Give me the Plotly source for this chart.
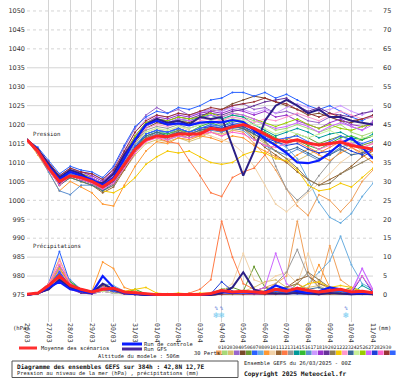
import plotly.graph_objects as go
import pandas as pd

# ---------------- DATA ----------------
run_start = "2025-03-26 00:00"
n_steps = 33  # 12-hourly, 0..384h
times = pd.date_range(run_start, periods=n_steps, freq="12h")

pressure_ticks = list(range(975, 1051, 5))
precip_ticks = list(range(0, 76, 5))

# Sea-level pressure (hPa)
mean_pres = [1016, 1013, 1008.5, 1005, 1006.5, 1006, 1005, 1003.5, 1005.5, 1009.5, 1013.5, 1016, 1017, 1016.8, 1017.5, 1017.5, 1017.5, 1019, 1018.6, 1019.4, 1020, 1019, 1017.6, 1016, 1015.4, 1016, 1015.1, 1014.6, 1015, 1015.4, 1014.5, 1014, 1013.5]
ctrl_pres = [1016, 1013, 1009, 1005.5, 1007.5, 1006.5, 1005.5, 1004, 1006, 1011, 1016, 1020, 1021, 1020, 1020.3, 1019.8, 1020.5, 1020.7, 1020.6, 1021.2, 1020.7, 1018.5, 1016.3, 1014.5, 1012.5, 1010, 1009.8, 1010.5, 1012.5, 1015, 1016.5, 1014, 1011]
gfs_pres = [1016, 1013.5, 1009.5, 1006, 1008, 1007, 1005, 1004.5, 1007, 1012, 1016, 1020, 1021.5, 1020.5, 1021, 1020, 1022, 1021.5, 1022, 1014, 1006.5, 1013, 1021, 1025, 1026.5, 1025, 1023, 1024, 1022, 1022, 1021, 1020.5, 1020]

pres_01 = [1016, 1013, 1009, 1005.5, 1007, 1006.5, 1005, 1004, 1006, 1010, 1014, 1016.5, 1017, 1016, 1017.5, 1016.5, 1017, 1018, 1017, 1018.5, 1018, 1015, 1012, 1008, 1003, 998.5, 996, 1001.5, 1000, 997, 1000, 1005, 1008]
pres_02 = [1016, 1013.5, 1009.5, 1006, 1008, 1007, 1006, 1004.5, 1007, 1012, 1016.5, 1019.5, 1021, 1020, 1021.5, 1020.5, 1021.5, 1022.5, 1021, 1022.5, 1022, 1021, 1020, 1018.5, 1019, 1020, 1019, 1018, 1019, 1020, 1018, 1017, 1018]
pres_03 = [1016, 1012.5, 1008.5, 1004, 1006.5, 1005.5, 1004.5, 1003, 1004.5, 1008, 1012, 1015, 1016, 1015.5, 1016.5, 1015.5, 1016.5, 1018, 1017.5, 1018.5, 1019, 1017, 1015, 1013, 1011, 1010.5, 1012, 1013.5, 1012, 1014, 1015, 1013, 1012]
pres_04 = [1016, 1013.5, 1010, 1006.5, 1008.5, 1007.5, 1007, 1005.5, 1008.5, 1014, 1019, 1022.5, 1024.5, 1023, 1024, 1022.5, 1023.5, 1024, 1023.5, 1025, 1025.5, 1024, 1024.5, 1023, 1023.5, 1022.5, 1021, 1020.5, 1022, 1021, 1019.5, 1018.5, 1021]
pres_05 = [1016, 1013, 1009.5, 1005.5, 1007.5, 1006.5, 1005.5, 1004, 1006.5, 1011, 1015.5, 1019, 1020.5, 1020, 1021, 1020.5, 1022, 1023.5, 1024, 1025.5, 1026.5, 1027.5, 1027, 1026, 1025, 1024, 1022.5, 1023, 1022, 1021, 1020.5, 1021.5, 1022]
pres_06 = [1016, 1012.5, 1008.5, 1004.5, 1006.5, 1006, 1005, 1003.5, 1005, 1009, 1013, 1016, 1017.5, 1017, 1018, 1017.5, 1018.5, 1019, 1018.5, 1019.5, 1019, 1017.5, 1016, 1015, 1016, 1017.5, 1016.5, 1015, 1016, 1017, 1016, 1014.5, 1015.5]
pres_07 = [1016, 1014, 1010.5, 1007, 1009, 1008, 1007.5, 1006, 1009, 1014.5, 1019.5, 1022, 1023.5, 1023, 1024.5, 1024, 1025, 1026.5, 1027, 1028.5, 1028.5, 1027.5, 1028.5, 1027, 1028, 1026.5, 1025, 1024, 1025, 1023.5, 1022, 1021, 1022.5]
pres_08 = [1016, 1013, 1009, 1005, 1007, 1006, 1005, 1003.5, 1005.5, 1010, 1014, 1017.5, 1018.5, 1017.5, 1019, 1018, 1019, 1020, 1019, 1020, 1019.5, 1018, 1017, 1015.5, 1014, 1011, 1005.5, 999.5, 995.5, 994, 996.5, 1001, 1004.5]
pres_09 = [1016, 1012, 1007.5, 1002.5, 1005, 1003.5, 1002, 999, 998.5, 1004, 1009, 1013, 1015.5, 1015, 1016.5, 1016, 1017, 1016.5, 1015.5, 1017, 1016.5, 1014.5, 1013, 1011.5, 1010, 1012, 1013.5, 1012, 1010.5, 1012.5, 1014, 1012, 1010]
pres_10 = [1016, 1013, 1009, 1005, 1007, 1006, 1005, 1003.5, 1006, 1010.5, 1015, 1018, 1019, 1018, 1019.5, 1018.5, 1018, 1017, 1016, 1015, 1012.5, 1009, 1004, 999, 997, 999.5, 1002, 1004.5, 1007, 1010, 1012, 1013.5, 1015]
pres_11 = [1016, 1012.5, 1008, 1004, 1006, 1005, 1004, 1002, 1003.5, 1008, 1012.5, 1016, 1017, 1016.5, 1018, 1017, 1018, 1019, 1018, 1019.5, 1019, 1016.5, 1014, 1012, 1010, 1007.5, 1005.5, 1004, 1005.5, 1007, 1009, 1011.5, 1013]
pres_12 = [1016, 1013, 1008.5, 1004.5, 1006.5, 1005.5, 1004.5, 1003, 1005, 1009, 1013, 1016, 1016.5, 1015.5, 1015, 1010.5, 1006.5, 1002, 1001, 1006, 1007.5, 1008.5, 1012, 1015, 1016.5, 1015.5, 1014, 1012.5, 1014, 1015.5, 1014, 1012.5, 1013]
pres_13 = [1016, 1013, 1009, 1005, 1007.5, 1006.5, 1005.5, 1004, 1006, 1010.5, 1015, 1018.5, 1019.5, 1019, 1020, 1019, 1020, 1021, 1020, 1021.5, 1021, 1019, 1016.5, 1009, 1003, 1000, 1002.5, 1006.5, 1010, 1013, 1015, 1016, 1017]
pres_14 = [1016, 1013, 1009, 1005.5, 1007.5, 1006.5, 1005.5, 1004, 1006, 1011, 1016, 1019.5, 1021, 1020.5, 1021.5, 1021, 1022, 1022.5, 1021.5, 1022.5, 1022, 1020, 1018.5, 1017, 1018, 1019, 1018, 1016.5, 1017.5, 1018, 1016.5, 1016, 1017.5]
pres_15 = [1016, 1012.5, 1008.5, 1005, 1007, 1006, 1005, 1003.5, 1005.5, 1009.5, 1014, 1017, 1018, 1017.5, 1018.5, 1018, 1019.5, 1020.5, 1019.5, 1021, 1020.5, 1019, 1018, 1016.5, 1015, 1016, 1014.5, 1013.5, 1015, 1016.5, 1017, 1016, 1017]
pres_16 = [1016, 1012.5, 1007.5, 1002.5, 1001.5, 1004, 1004, 1002.5, 1004, 1009, 1013.5, 1016.5, 1017.5, 1016, 1017, 1016.5, 1017.5, 1018.5, 1018, 1019, 1018.5, 1016, 1014.5, 1013, 1012, 1013.5, 1012, 1010.5, 1012, 1014, 1015, 1013.5, 1014]
pres_17 = [1016, 1013.5, 1010, 1006, 1008, 1007, 1006.5, 1005, 1007.5, 1013, 1018, 1021.5, 1022.5, 1022, 1023, 1022.5, 1023, 1024, 1023.5, 1024.5, 1024, 1023, 1024, 1023, 1024.5, 1025.5, 1024.5, 1023.5, 1024, 1025, 1023.5, 1022.5, 1024]
pres_18 = [1016, 1013.5, 1009.5, 1006, 1008, 1007.5, 1006.5, 1005, 1007.5, 1012.5, 1017, 1020.5, 1022, 1021.5, 1022.5, 1022, 1023, 1023.5, 1023, 1024, 1023.5, 1022.5, 1023.5, 1022, 1022.5, 1021, 1020, 1019, 1020.5, 1021.5, 1020, 1019.5, 1020.5]
pres_19 = [1016, 1013, 1009.5, 1005.5, 1007.5, 1007, 1006, 1004.5, 1007, 1012, 1016.5, 1020, 1021.5, 1021, 1022, 1021.5, 1022.5, 1023, 1022.5, 1023.5, 1024, 1025, 1026, 1026.5, 1027, 1025, 1023.5, 1024.5, 1023, 1022.5, 1022, 1023, 1023.5]
pres_20 = [1016, 1012.5, 1008.5, 1004.5, 1006.5, 1005.5, 1004.5, 1002.5, 1004, 1008.5, 1013, 1016.5, 1018, 1017, 1018.5, 1017.5, 1018.5, 1019.5, 1019, 1020, 1019.5, 1017.5, 1015.5, 1013, 1011, 1008.5, 1005.5, 1004, 1004.5, 1007, 1008.5, 1010, 1011.5]
pres_21 = [1016, 1012.5, 1008.5, 1004.5, 1006, 1005, 1004, 1002.5, 1002, 1003.5, 1006, 1009.5, 1011.5, 1013, 1012.5, 1013, 1011.5, 1010, 1009.5, 1010, 1012, 1013, 1012.5, 1011, 1010.5, 1008, 1004, 1002.5, 1003, 1004.5, 1003.5, 1006, 1008.5]
pres_22 = [1016, 1013, 1009, 1005.5, 1007.5, 1006.5, 1005.5, 1004, 1006.5, 1011.5, 1016, 1019, 1020, 1019.5, 1020.5, 1020, 1021, 1021.5, 1021, 1022, 1021.5, 1020.5, 1021.5, 1021, 1022, 1023, 1022, 1021, 1022.5, 1023.5, 1022.5, 1021.5, 1022]
pres_23 = [1016, 1012.5, 1008.5, 1004, 1006, 1005, 1004, 1002.5, 1004.5, 1009, 1013.5, 1017, 1018, 1017, 1018, 1017.5, 1018.5, 1019, 1018.5, 1019.5, 1019, 1017.5, 1016, 1014.5, 1013, 1014, 1012.5, 1011, 1012, 1013.5, 1012, 1012.5, 1014]
pres_24 = [1016, 1013, 1009, 1005, 1007, 1006, 1005, 1003.5, 1005.5, 1010, 1014.5, 1018, 1019, 1018.5, 1019.5, 1019, 1020, 1021, 1020.5, 1021.5, 1021, 1020, 1019, 1017.5, 1018.5, 1017.5, 1016.5, 1017.5, 1018.5, 1017, 1015.5, 1016.5, 1017]
pres_25 = [1016, 1013.5, 1009.5, 1006, 1008, 1007, 1006, 1004.5, 1007, 1012, 1017, 1020.5, 1021.5, 1021, 1022, 1021.5, 1022, 1023, 1022, 1023, 1022.5, 1021.5, 1020.5, 1019.5, 1020.5, 1021.5, 1020, 1019, 1020, 1019, 1018.5, 1019.5, 1020]
pres_26 = [1016, 1013, 1009.5, 1005.5, 1007.5, 1006.5, 1006, 1004.5, 1007, 1011.5, 1016, 1019.5, 1021, 1020.5, 1021.5, 1021, 1021.5, 1022.5, 1022, 1023, 1022.5, 1021.5, 1020, 1019, 1019.5, 1020.5, 1019.5, 1018, 1019.5, 1020.5, 1019.5, 1018.5, 1020]
pres_27 = [1016, 1012.5, 1008.5, 1004.5, 1006.5, 1005.5, 1004.5, 1003, 1005, 1009.5, 1014, 1017.5, 1018.5, 1018, 1019, 1018, 1019, 1019.5, 1019, 1020, 1019.5, 1018, 1016.5, 1015.5, 1014.5, 1015, 1013.5, 1012.5, 1013, 1014.5, 1013, 1012, 1013.5]
pres_28 = [1016, 1012.5, 1008, 1004, 1006.5, 1005.5, 1004.5, 1003, 1004.5, 1008.5, 1012.5, 1015.5, 1016.5, 1016, 1017, 1016.5, 1017.5, 1018, 1017, 1018, 1017.5, 1016, 1014.5, 1014, 1015, 1016, 1015, 1013.5, 1014.5, 1016, 1015, 1014, 1015]
pres_29 = [1016, 1013.5, 1010, 1006.5, 1008.5, 1007.5, 1007, 1005.5, 1008, 1013, 1018, 1021, 1022.5, 1022, 1023, 1022.5, 1023.5, 1024.5, 1024, 1025, 1025.5, 1026, 1027, 1026, 1025.5, 1024, 1023, 1022, 1023, 1022, 1021, 1021.5, 1022.5]
pres_30 = [1016, 1013, 1009, 1005, 1007, 1006, 1005, 1003.5, 1005.5, 1010, 1014.5, 1017.5, 1018.5, 1018, 1019, 1018, 1019, 1020, 1019.5, 1020.5, 1020, 1018.5, 1017, 1016, 1016.5, 1017, 1015.5, 1014.5, 1015.5, 1017, 1016, 1015, 1016]

# Precipitation (mm)
mean_rain = [0.2, 0.5, 2.5, 5, 2.5, 1.5, 0.8, 1.5, 1.8, 0.8, 0.6, 0.3, 0.1, 0.1, 0.1, 0.1, 0.1, 0.4, 1.2, 0.8, 1, 0.8, 0.6, 1.5, 1, 1.8, 1.2, 0.8, 1.2, 1.5, 0.8, 1, 0.6]
ctrl_rain = [0, 0.5, 2, 3.5, 1.5, 1, 0.5, 5, 2, 0.5, 0.3, 0, 0, 0, 0, 0, 0, 0.3, 1, 0.5, 0.8, 0.5, 0.8, 2.5, 1.5, 1, 0.5, 1, 2, 1.5, 0.5, 0.5, 0.5]
gfs_rain = [0, 0.5, 1.5, 4, 2, 1, 0.5, 3, 1.5, 0.5, 0.2, 0, 0, 0, 0, 0, 0, 0, 0.5, 2, 6, 1.5, 0.5, 0.3, 0.3, 0.5, 0.3, 0.2, 0.5, 0.3, 0.2, 0.3, 0.2]

rain_01 = [0, 0.5, 3, 9.5, 3, 1, 0.5, 2, 1.5, 0.5, 0.3, 0, 0, 0, 0, 0, 0, 0.2, 0.5, 0.3, 0.5, 1, 2, 3, 5, 19.5, 6, 2, 13, 4, 2, 1, 0.5]
rain_02 = [0, 0.3, 2, 5, 2, 1, 0.5, 1.5, 1, 0.3, 0.2, 0, 0, 0, 0, 0, 0, 0, 0.3, 0.5, 0.3, 0.5, 0.3, 1, 0.5, 0.8, 0.5, 0.3, 0.8, 1, 0.5, 0.3, 0.2]
rain_03 = [0, 0.5, 2.5, 6, 2.5, 1, 0.5, 1, 2, 0.5, 0.5, 0, 0, 0, 0, 0, 0, 0.5, 1, 0.5, 1, 2, 3.5, 4, 2, 1.5, 2, 2.5, 1, 1.5, 1, 0.5, 0.5]
rain_04 = [0, 0.3, 1.5, 4, 2, 0.5, 0.3, 1, 0.5, 0.3, 0, 0, 0, 0, 0, 0, 0, 0, 0.2, 0.3, 0.2, 0.3, 0.2, 0.5, 0.3, 0.5, 0.2, 0.3, 0.5, 0.3, 0.2, 0.3, 0.2]
rain_05 = [0, 0.5, 2, 7, 3, 1.5, 0.5, 2.5, 1.5, 0.5, 0.3, 0, 0, 0, 0, 0, 0, 0.2, 0.3, 0.2, 0.3, 0.2, 0.3, 0.2, 0.3, 0.5, 0.3, 0.2, 0.3, 0.5, 0.3, 0.2, 0.2]
rain_06 = [0, 0.5, 2, 5.5, 3.5, 1.5, 1, 2, 1, 0.5, 0.5, 0, 0, 0, 0, 0, 0, 0.5, 1.5, 2, 1, 7.5, 2, 1, 0.5, 3, 1, 0.5, 1.5, 1, 2, 1, 0.5]
rain_07 = [0, 0.5, 3, 11.5, 3, 1, 0.5, 1.5, 1, 0.3, 0.2, 0, 0, 0, 0, 0, 0, 0, 0.2, 0.3, 0.2, 0.3, 0.2, 0.3, 0.5, 0.3, 0.2, 0.3, 0.5, 0.3, 0.2, 0.5, 0.3]
rain_08 = [0, 0.5, 2.5, 6.5, 2, 1, 0.5, 3, 2.5, 1, 0.5, 0, 0, 0, 0, 0, 0, 0.3, 0.5, 0.5, 0.3, 0.5, 0.5, 1, 0.5, 1, 3, 6, 9, 15.5, 8, 3, 1.5]
rain_09 = [0, 0.5, 3, 8, 2.5, 1.5, 1, 8.7, 7, 2, 1, 0.3, 0, 0, 0, 0, 0, 0.3, 0.5, 0.3, 0.5, 1, 0.5, 1.5, 2, 3, 1.5, 8, 2, 1, 1.5, 1, 0.5]
rain_10 = [0, 0.5, 2, 4.5, 2, 1, 0.5, 1.5, 1, 0.5, 0.3, 0, 0, 0, 0, 0, 0, 0.5, 1, 3, 11, 4, 3, 5, 6, 3, 11, 3, 1.5, 1, 0.5, 0.5, 0.3]
rain_11 = [0, 0.5, 2, 6, 3, 1, 0.5, 2, 1.5, 0.5, 0.3, 0, 0, 0, 0, 0, 0, 0.2, 0.5, 0.5, 0.5, 1, 2, 1.5, 2, 4, 5, 3, 2, 1.5, 1, 1, 0.5]
rain_12 = [0, 0.5, 2.5, 7, 2.5, 1, 0.5, 2, 1, 0.5, 0.3, 0, 0, 0, 0, 0.5, 1.5, 4, 19.5, 10, 3, 1.5, 1, 0.5, 0.3, 1, 0.5, 0.3, 0.5, 0.5, 0.3, 0.5, 0.3]
rain_13 = [0, 0.3, 2, 5, 2, 1, 0.5, 1.5, 1, 0.3, 0.2, 0, 0, 0, 0, 0, 0, 0.2, 0.3, 0.3, 0.5, 0.5, 1, 3, 6, 12, 5, 2, 1, 0.5, 0.5, 0.3, 0.3]
rain_14 = [0, 0.5, 2, 6, 2.5, 1, 0.5, 1.5, 1, 0.5, 0.3, 0, 0, 0, 0, 0, 0, 0, 0.3, 0.5, 0.3, 0.5, 0.3, 1, 0.5, 1.5, 0.5, 0.5, 1, 0.5, 0.3, 2.5, 1]
rain_15 = [0, 0.5, 2, 5, 3.5, 1.5, 1, 2, 1, 0.5, 1.5, 0.3, 0, 0, 0, 0, 0, 0.2, 0.5, 0.3, 0.5, 0.5, 0.3, 1, 0.5, 1.5, 0.5, 0.3, 1, 1.5, 0.5, 0.5, 0.3]
rain_16 = [0, 0.5, 2.5, 7.5, 4, 1.5, 1, 2, 1.5, 0.5, 0.3, 0, 0, 0, 0, 0, 0, 0.2, 0.5, 0.5, 0.3, 0.5, 0.5, 1, 0.5, 1, 1, 0.5, 1, 1.5, 0.5, 0.3, 0.3]
rain_17 = [0, 0.5, 2, 5, 2, 1, 0.5, 1, 0.5, 0.3, 0.2, 0, 0, 0, 0, 0, 0, 0, 0.2, 0.3, 0.2, 0.3, 0.2, 0.5, 0.3, 0.5, 0.3, 0.2, 0.5, 0.5, 0.3, 7, 1]
rain_18 = [0, 0.3, 1.5, 4, 1.5, 0.5, 0.3, 1, 0.5, 0.3, 0.2, 0, 0, 0, 0, 0, 0, 0, 0.2, 0.3, 0.2, 0.3, 0.2, 0.5, 0.3, 0.5, 0.3, 0.2, 0.5, 0.3, 0.2, 0.5, 0.3]
rain_19 = [0, 0.3, 1.5, 4.5, 2, 0.5, 0.3, 1.5, 1, 0.3, 0.2, 0, 0, 0, 0, 0, 0, 0, 0.2, 0.3, 0.5, 0.5, 0.3, 0.5, 0.3, 0.5, 0.3, 0.2, 0.3, 0.5, 0.3, 0.3, 0.2]
rain_20 = [0, 0.5, 2, 6, 2.5, 1, 0.5, 2, 1.5, 0.5, 0.3, 0, 0, 0, 0, 0, 0, 0.2, 0.5, 0.5, 0.5, 0.5, 1, 1.5, 2, 3, 6, 4, 2, 1, 1, 0.5, 0.5]
rain_21 = [0, 0.5, 2.5, 7, 2.5, 1.5, 0.5, 2, 2, 1, 1.5, 2, 0.5, 0.3, 0.5, 0.3, 0.5, 0.5, 1, 0.5, 0.5, 0.5, 0.5, 1, 1, 1.5, 3, 3.5, 2, 2.5, 2, 1, 0.5]
rain_22 = [0, 0.5, 3, 9, 3, 1, 0.5, 1.5, 1, 0.3, 0.2, 0, 0, 0, 0, 0, 0, 0, 0.2, 0.3, 0.2, 0.3, 0.3, 0.5, 0.3, 0.5, 0.3, 0.3, 0.5, 0.5, 0.3, 0.3, 0.2]
rain_23 = [0, 0.5, 2, 5.5, 2, 1, 0.5, 1.5, 1, 0.5, 0.3, 0, 0, 0, 0, 0, 0, 0.2, 0.5, 0.5, 0.5, 1, 0.5, 1, 1.5, 1, 1.5, 2, 1, 1, 0.5, 1, 0.5]
rain_24 = [0, 0.3, 2, 4, 2, 1, 0.5, 1, 0.5, 0.3, 0.2, 0, 0, 0, 0, 0, 0, 0, 0.2, 0.3, 0.2, 0.5, 0.3, 0.5, 0.3, 0.5, 0.3, 0.3, 0.5, 0.3, 0.3, 0.5, 0.3]
rain_25 = [0, 0.3, 2, 5, 2.5, 1, 0.5, 1.5, 1, 0.3, 0.2, 0, 0, 0, 0, 0, 0, 0, 0.2, 0.3, 0.3, 0.5, 0.3, 0.5, 0.3, 0.5, 0.3, 0.3, 0.5, 0.5, 0.3, 0.3, 0.2]
rain_26 = [0, 0.5, 2, 6.5, 2.5, 1, 0.5, 1.5, 1, 0.3, 0.2, 0, 0, 0, 0, 0, 0, 0, 0.3, 0.5, 0.5, 1, 2, 11, 3, 1, 0.5, 0.5, 1, 1.5, 1, 7, 1.5]
rain_27 = [0, 0.5, 2.5, 6, 2, 1, 0.5, 2, 1, 0.5, 0.3, 0, 0, 0, 0, 0, 0, 0.3, 3.5, 1, 0.5, 0.5, 0.5, 1, 0.5, 1, 0.5, 0.5, 1, 1, 0.5, 5, 0.5]
rain_28 = [0, 0.5, 2.5, 8, 3, 1, 0.5, 2, 1.5, 0.5, 0.3, 0, 0, 0, 0, 0, 0, 0.2, 0.5, 0.5, 0.5, 0.5, 0.5, 1.5, 1, 2, 1, 0.5, 1, 1.5, 1, 5, 1]
rain_29 = [0, 0.3, 2, 5, 2, 1, 0.5, 1.5, 1, 0.3, 0.2, 0, 0, 0, 0, 0, 0, 0, 0.2, 0.3, 0.2, 0.3, 0.2, 0.3, 0.3, 0.5, 0.3, 0.3, 0.3, 0.5, 0.3, 0.3, 0.2]
rain_30 = [0, 0.5, 2.5, 6, 2, 1, 0.5, 1.5, 1, 0.5, 0.3, 0, 0, 0, 0, 0, 0, 0.2, 0.5, 0.5, 0.5, 0.5, 0.5, 1, 0.5, 1.5, 0.5, 0.5, 1, 1, 0.5, 0.5, 0.3]

pert_colors = ["#f0a05a", "#a8d878", "#d8c070", "#9966cc", "#7a4a2a", "#6b9a33", "#2a62ff", "#6aaee0",
               "#ff9933", "#f2d2a8", "#996633", "#ff7a45", "#999999", "#009999", "#33bb33", "#5b8fd0",
               "#cc99ff", "#9933cc", "#663399", "#8c7b5a", "#f5c800", "#ff99cc", "#3a6a99", "#c8f098",
               "#99cc00", "#cc66ff", "#1f3fd8", "#ff66cc", "#993333", "#3366ff"]

snow_times = ["2025-04-03 18:00", "2025-04-04 00:00", "2025-04-09 18:00"]

pres_perts = [pres_01, pres_02, pres_03, pres_04, pres_05, pres_06, pres_07, pres_08, pres_09, pres_10,
              pres_11, pres_12, pres_13, pres_14, pres_15, pres_16, pres_17, pres_18, pres_19, pres_20,
              pres_21, pres_22, pres_23, pres_24, pres_25, pres_26, pres_27, pres_28, pres_29, pres_30]
rain_perts = [rain_01, rain_02, rain_03, rain_04, rain_05, rain_06, rain_07, rain_08, rain_09, rain_10,
              rain_11, rain_12, rain_13, rain_14, rain_15, rain_16, rain_17, rain_18, rain_19, rain_20,
              rain_21, rain_22, rain_23, rain_24, rain_25, rain_26, rain_27, rain_28, rain_29, rain_30]

for s in pres_perts + rain_perts + [mean_pres, ctrl_pres, gfs_pres, mean_rain, ctrl_rain, gfs_rain]:
    assert len(s) == n_steps, len(s)

# ---------------- LAYOUT GEOMETRY ----------------
W, H = 400, 378
ML, MR, MT, MB = 27, 27, 0, 56
PW, PH = W - ML - MR, H - MT - MB


def fx(px):
    return (px - ML) / PW


def fy(py):
    return (H - MB - py) / PH


MONO = "DejaVu Sans Mono"

fig = go.Figure()

for i in range(30):
    c = pert_colors[i]
    fig.add_trace(go.Scatter(x=times, y=pres_perts[i], mode="lines+markers",
                             line=dict(color=c, width=1), marker=dict(size=2, color=c),
                             hoverinfo="skip", showlegend=False))
for i in range(30):
    c = pert_colors[i]
    fig.add_trace(go.Scatter(x=times, y=rain_perts[i], yaxis="y2", mode="lines+markers",
                             line=dict(color=c, width=1), marker=dict(size=2, color=c),
                             hoverinfo="skip", showlegend=False))

main = [(gfs_pres, gfs_rain, "#2b1f86", 2.0), (ctrl_pres, ctrl_rain, "#0a1cff", 2.2),
        (mean_pres, mean_rain, "#ff2626", 3)]
for p, r, c, w in main:
    fig.add_trace(go.Scatter(x=times, y=p, mode="lines", line=dict(color=c, width=w),
                             hoverinfo="skip", showlegend=False))
    fig.add_trace(go.Scatter(x=times, y=r, yaxis="y2", mode="lines", line=dict(color=c, width=w),
                             hoverinfo="skip", showlegend=False))

# snow symbols
fig.add_trace(go.Scatter(x=snow_times, y=[969.4] * len(snow_times), mode="text", text=["❄"] * len(snow_times),
                         textfont=dict(size=8, color="#6cc8f0", family="DejaVu Sans"),
                         hoverinfo="skip", showlegend=False))
fig.add_trace(go.Scatter(x=snow_times, y=[971.4] * len(snow_times), mode="text", text=["%"] * len(snow_times),
                         textfont=dict(size=5, color="#3a5ad0", family=MONO),
                         hoverinfo="skip", showlegend=False))

shapes = []
dotted_levels = {1050, 1045, 1040, 1000, 995, 990}
for v in pressure_ticks:
    shapes.append(dict(type="line", xref="paper", yref="y", x0=0, x1=1, y0=v, y1=v, layer="below",
                       line=dict(color="#d4d4d4", width=1, dash="dot" if v in dotted_levels else "solid")))

# legend samples
shapes.append(dict(type="line", xref="paper", yref="paper", x0=fx(19), x1=fx(37), y0=fy(348), y1=fy(348),
                   line=dict(color="#ff3030", width=3)))
shapes.append(dict(type="line", xref="paper", yref="paper", x0=fx(122), x1=fx(142), y0=fy(344), y1=fy(344),
                   line=dict(color="#0a1cff", width=3)))
shapes.append(dict(type="line", xref="paper", yref="paper", x0=fx(122), x1=fx(142), y0=fy(349), y1=fy(349),
                   line=dict(color="#4a2a9a", width=3)))
for k, c in enumerate(pert_colors):
    x0 = 216 + k * 6
    shapes.append(dict(type="rect", xref="paper", yref="paper", x0=fx(x0), x1=fx(x0 + 5.6),
                       y0=fy(355), y1=fy(350.5), line=dict(width=0), fillcolor=c))
# title box
shapes.append(dict(type="rect", xref="paper", yref="paper", x0=fx(12), x1=fx(238), y0=fy(377.5), y1=fy(361),
                   line=dict(color="#555555", width=1), fillcolor="rgba(0,0,0,0)"))

annots = []


def txt(x, y, s, size=5.4, bold=False, color="#222222", anchor="left"):
    annots.append(dict(xref="paper", yref="paper", x=fx(x), y=fy(y), text=f"<b>{s}</b>" if bold else s,
                       showarrow=False, xanchor=anchor, yanchor="middle",
                       font=dict(family=MONO, size=size, color=color)))


txt(31, 134, "Pression", 5.7)
txt(31, 247, "Précipitations", 5.7)
txt(11, 328, "(hPa)", 5.6)
txt(376, 328, "(mm)", 5.6)
txt(39, 348, "Moyenne des scénarios")
txt(142, 343.5, "Run de controle")
txt(142, 349, "Run GFS")
txt(96, 356, "Altitude du modele : 506m")
txt(192, 352.5, "30 Perts.")
txt(216, 347, "".join(f"{k:02d}" for k in range(1, 31)), 4.8)
txt(15, 366.5, "Diagramme des ensembles GEFS sur 384h : 42,8N 12,7E", 6.1, bold=True, color="#111111")
txt(15, 373.5, "Pression au niveau de la mer (hPa) , précipitations (mm)", 5.4)
txt(242, 362.5, "Ensemble GEFS du 26/03/2025 - 00Z", 5.4)
txt(242, 373.5, "Copyright 2025 Meteociel.fr", 6.3, bold=True, color="#111111")

fig.update_layout(
    width=W, height=H, autosize=False,
    margin=dict(l=ML, r=MR, t=MT, b=MB, pad=0),
    paper_bgcolor="white", plot_bgcolor="white",
    showlegend=False,
    shapes=shapes, annotations=annots,
    xaxis=dict(type="date", range=[times[0], times[-1]], dtick=86400000, tick0=run_start,
               tickformat="%d/%m", tickangle=90, showgrid=True, gridcolor="#d4d4d4", gridwidth=1,
               zeroline=False, showline=False, ticks="", automargin=False,
               tickfont=dict(family=MONO, size=6.5, color="#333333")),
    yaxis=dict(range=[967.87, 1052.9], tickvals=pressure_ticks, showgrid=False, zeroline=False,
               showline=False, ticks="", ticklabelstandoff=1, automargin=False,
               tickfont=dict(family="DejaVu Sans", size=6.5, color="#333333")),
    yaxis2=dict(range=[-7.13, 77.9], tickvals=precip_ticks, overlaying="y", side="right", anchor="x",
                showgrid=False, zeroline=False, showline=False, ticks="", ticklabelstandoff=9,
                automargin=False,
                tickfont=dict(family="DejaVu Sans", size=6.5, color="#333333")),
)

fig.write_html("out.html", config={"displayModeBar": False},
               post_script="document.body.style.margin='0';document.body.style.overflow='hidden';")
